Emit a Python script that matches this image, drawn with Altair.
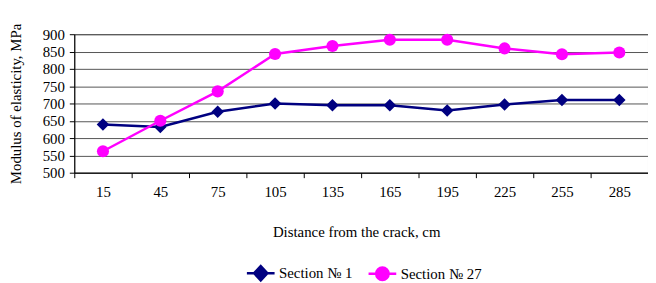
import altair as alt
import pandas as pd

distances = ["15", "45", "75", "105", "135", "165", "195", "225", "255", "285"]
section1 = [639, 632, 676, 700, 695, 695, 680, 697, 710, 710]
section27 = [562, 650, 735, 843, 866, 884, 884, 859, 842, 847]
series_names = ["Section № 1", "Section № 27"]
series_colors = ["#000080", "#FF00FF"]
marker_shapes = ["diamond", "circle"]
legend_shapes = [
    "M-1,0H1M0,-0.52L0.48,0L0,0.52L-0.48,0Z",
    "M-1,0H1M0.45,0A0.45,0.45 0 1,1 -0.45,0A0.45,0.45 0 1,1 0.45,0Z",
]

rows = []
for name, vals in zip(series_names, [section1, section27]):
    for d, v in zip(distances, vals):
        rows.append({"distance": d, "value": v, "series": name})
df = pd.DataFrame(rows)

FONT = "Liberation Serif"

x_enc = alt.X(
    "distance:O",
    sort=distances,
    scale=alt.Scale(type="band", paddingInner=0, paddingOuter=0),
    axis=alt.Axis(
        title="Distance from the crack, cm",
        labelAngle=0,
        labelFont=FONT,
        titleFont=FONT,
        tickBand="extent",
        tickSize=5,
        labelPadding=14,
        labelBaseline="middle",
        titleX=285,
        titleY=60,
        titleAlign="center",
        titleBaseline="middle",
        domainColor="#000000",
        tickColor="#000000",
        grid=False,
    ),
)
y_enc = alt.Y(
    "value:Q",
    scale=alt.Scale(domain=[500, 900], nice=False, zero=False),
    axis=alt.Axis(
        title="Modulus of elasticity, MPa",
        labelFont=FONT,
        titleFont=FONT,
        titleFontSize=15,
        values=list(range(500, 901, 50)),
        tickSize=5,
        labelPadding=5,
        grid=True,
        gridColor="#555555",
        gridWidth=1,
        titleX=-54,
        titleY=70,
        titleAlign="center",
        titleAngle=270,
        titleBaseline="alphabetic",
        domainColor="#000000",
        tickColor="#000000",
    ),
)

stroke_scale = alt.Scale(domain=series_names, range=series_colors)
fill_scale = alt.Scale(domain=series_names, range=series_colors)

base = alt.Chart(df)

lines = base.mark_line(strokeWidth=2.5).encode(
    x=x_enc, y=y_enc,
    stroke=alt.Stroke("series:N", scale=stroke_scale, legend=None),
)

marker_layers = []
for name, shp, sz in zip(series_names, marker_shapes, [160, 150]):
    marker_layers.append(
        base.transform_filter(alt.datum.series == name)
        .mark_point(filled=True, size=sz, opacity=1, shape=shp, strokeWidth=0)
        .encode(
            x=x_enc,
            y=y_enc,
            fill=alt.Fill("series:N", scale=fill_scale, legend=None),
        )
    )

leg = alt.Legend(
    title=None,
    orient="none",
    direction="horizontal",
    legendX=173,
    legendY=226,
    labelFont=FONT,
)

legend_layer = base.mark_point(filled=False, opacity=0, size=10).encode(
    x=x_enc,
    y=y_enc,
    stroke=alt.Stroke("series:N", scale=stroke_scale, legend=leg),
    fill=alt.Fill("series:N", scale=fill_scale, legend=leg),
    shape=alt.Shape(
        "series:N",
        scale=alt.Scale(domain=series_names, range=legend_shapes),
        legend=leg,
    ),
)

chart = (
    alt.layer(lines, *marker_layers, legend_layer)
    .resolve_scale(stroke="independent", fill="independent", shape="independent")
    .properties(
        width=580,
        height=140,
        autosize=alt.AutoSizeParams(type="none"),
        padding={"left": 67, "top": 25, "right": 0, "bottom": 110},
    )
    .configure(font=FONT)
    .configure_view(stroke="#555555", strokeWidth=1)
    .configure_axis(
        labelFont=FONT,
        titleFont=FONT,
        labelFontSize=15,
        titleFontSize=15,
        labelColor="#000000",
        titleColor="#000000",
        titleFontWeight="normal",
    )
    .configure_legend(
        labelFont=FONT,
        labelFontSize=15,
        labelColor="#000000",
        symbolSize=784,
        symbolStrokeWidth=2.5,
        symbolOpacity=1,
        labelOffset=3,
        columnPadding=10,
    )
)

chart.save("out.html", embed_options={"renderer": "svg", "actions": False})
